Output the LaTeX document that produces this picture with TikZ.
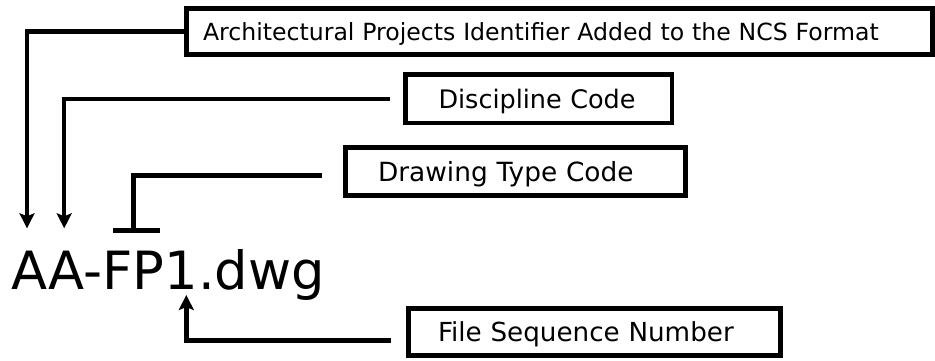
\documentclass[tikz,border=0pt]{standalone}
\usepackage{fontspec}
\setmainfont{DejaVu Sans}
\usetikzlibrary{arrows.meta}
\begin{document}
\begin{tikzpicture}[x=1pt,y=-1pt,
  lbl/.style={draw, line width=4.5pt, anchor=north west, outer sep=0pt,
    align=left, inner ysep=0pt, text depth=0pt},
  conn/.style={line width=4.5pt, line join=miter},
  arr/.style={conn, -{Stealth[length=15pt,width=15pt,inset=3pt]}}]
\useasboundingbox (0,0) rectangle (935,360);
\fill[white] (0,0) rectangle (935,360);
% boxes
\node[lbl, font=\fontsize{23.6}{28}\selectfont, text height=17.2pt, minimum width=746pt, minimum height=46.2pt, inner xsep=16.5pt, text width=713pt] (b1) at (186.5,8.3) {Architectural Projects Identifier Added to the NCS Format};
\node[lbl, font=\fontsize{25.5}{30}\selectfont, text height=18.6pt, minimum width=266.5pt, minimum height=48.5pt, inner xsep=33pt, text width=200.5pt] (b2) at (405.5,74.5) {Discipline Code};
\node[lbl, font=\fontsize{26.4}{31}\selectfont, text height=19.2pt, minimum width=340pt, minimum height=48pt, inner xsep=32.5pt, text width=275pt] (b3) at (345.5,147.5) {Drawing Type Code};
\node[lbl, font=\fontsize{26.2}{31}\selectfont, text height=19.1pt, minimum width=372pt, minimum height=47.2pt, inner xsep=29.5pt, text width=313pt] (b4) at (408.5,308.3) {File Sequence Number};
% file name
\node[anchor=base west, inner sep=0pt, font=\fontsize{52.7}{62}\selectfont] (fn) at (11,289) {AA-FP1.dwg};
% connector endpoints
\coordinate (t1) at (27,228.3);
\coordinate (s2) at (390,99);
\coordinate (t2) at (64.2,228.3);
\coordinate (s3) at (322,175.5);
\coordinate (t3) at (133.3,230.5);
\coordinate (bl) at (113.3,230.5);
\coordinate (br) at (160,230.5);
\coordinate (s4) at (391,340.3);
\coordinate (t4) at (186.3,295);
% connectors
\draw[arr] (b1.west) -| (t1);
\draw[arr] (s2) -| (t2);
\draw[conn] (s3) -| (t3);
\draw[conn] (bl) -- (br);
\draw[arr] (s4) -| (t4);
\end{tikzpicture}
\end{document}
